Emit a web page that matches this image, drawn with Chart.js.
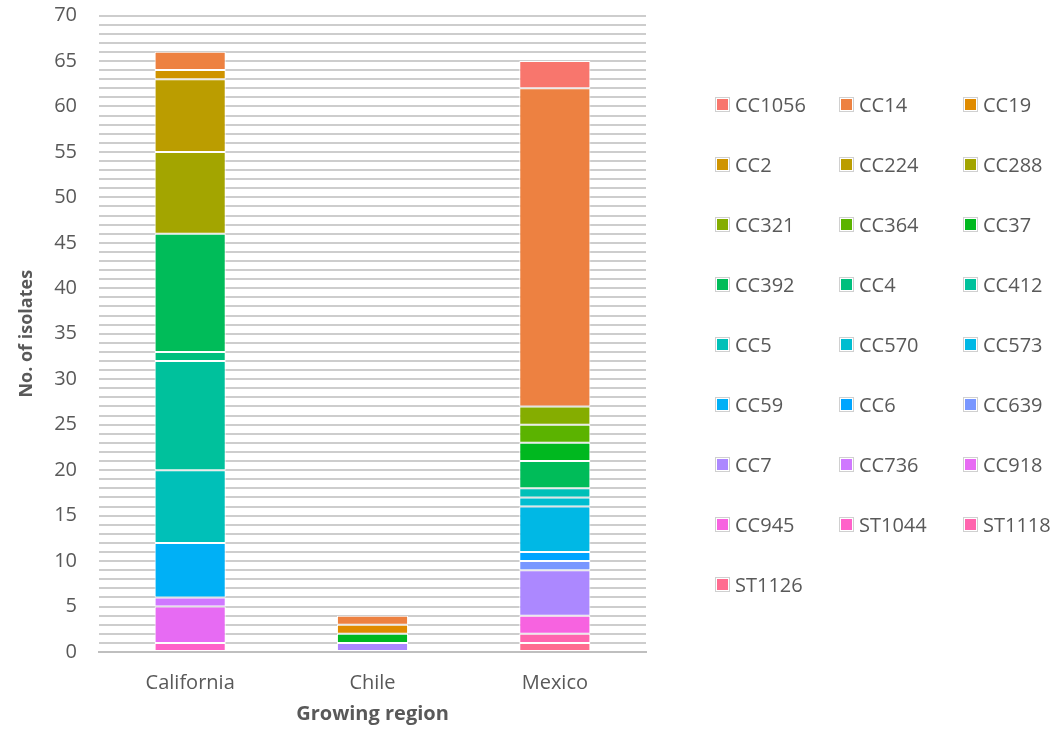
<!DOCTYPE html>
<html>
<head>
<meta charset="utf-8">
<script src="https://cdn.jsdelivr.net/npm/chart.js@4.4.1/dist/chart.umd.min.js"></script>
<style>
  html, body { margin: 0; padding: 0; background: #ffffff; }
  #wrap { position: relative; width: 1063px; height: 729px; overflow: hidden; }
  #chart { position: absolute; left: 0; top: 0; }
  #legend { position: absolute; left: 0; top: 0; font-family: "Open Sans", sans-serif; font-size: 20px; color: #595959; }
  .item { position: absolute; display: flex; align-items: center; height: 26px; white-space: nowrap; }
  .swatch { width: 11px; height: 11px; padding: 1px; border: 1px solid #d0d0d0; background-clip: content-box; margin-right: 5px; flex: none; }
</style>
</head>
<body>
<div id="wrap">
  <canvas id="chart" width="1063" height="729"></canvas>
  <div id="legend"></div>
</div>
<script>
// Growing regions on the x axis
const regions = ['California', 'Chile', 'Mexico'];

// Clonal complexes / sequence types, in legend order
const complexes = [
  'CC1056', 'CC14', 'CC19', 'CC2', 'CC224', 'CC288', 'CC321', 'CC364', 'CC37',
  'CC392', 'CC4', 'CC412', 'CC5', 'CC570', 'CC573', 'CC59', 'CC6', 'CC639',
  'CC7', 'CC736', 'CC918', 'CC945', 'ST1044', 'ST1118', 'ST1126'
];

// Number of isolates per complex (same order as complexes)
const californiaCounts = [0, 2, 0, 1, 8, 9, 0, 0, 0, 13, 1, 12, 8, 0, 0, 6, 0, 0, 0, 1, 4, 0, 1, 0, 0];
const chileCounts      = [0, 1, 1, 0, 0, 0, 0, 0, 1, 0, 0, 0, 0, 0, 0, 0, 0, 0, 1, 0, 0, 0, 0, 0, 0];
const mexicoCounts     = [3, 35, 0, 0, 0, 0, 2, 2, 2, 3, 0, 0, 1, 1, 5, 0, 1, 1, 5, 0, 0, 2, 0, 1, 1];

// Evenly spaced hues in polar CIE-LUV (chroma 100, luminance 65)
function hclColor(h, c, l) {
  const rad = h * Math.PI / 180;
  const U = c * Math.cos(rad), V = c * Math.sin(rad);
  const Y = Math.pow((l + 16) / 116, 3);
  const un = 0.1978398, vn = 0.4683363;
  const u = U / (13 * l) + un, v = V / (13 * l) + vn;
  const X = 9 * Y * u / (4 * v);
  const Z = Y * (12 - 3 * u - 20 * v) / (4 * v);
  const lin = [
     3.240479 * X - 1.537150 * Y - 0.498535 * Z,
    -0.969256 * X + 1.875992 * Y + 0.041556 * Z,
     0.055648 * X - 0.204043 * Y + 1.057311 * Z
  ];
  return '#' + lin.map(t => {
    let g = t <= 0.0031308 ? 12.92 * t : 1.055 * Math.pow(t, 1 / 2.4) - 0.055;
    g = Math.min(1, Math.max(0, g));
    return Math.round(g * 255).toString(16).padStart(2, '0');
  }).join('');
}
const palette = complexes.map((_, i) => hclColor(15 + 360 * i / complexes.length, 100, 65));

// Stacks build upward from the last complex, so datasets go in reverse order
const datasets = complexes.map((name, i) => ({
  label: name,
  data: [californiaCounts[i], chileCounts[i], mexicoCounts[i]],
  backgroundColor: palette[i],
  borderColor: '#ffffff',
  borderWidth: 1,
  borderSkipped: false,
  categoryPercentage: 1,
  barPercentage: 0.39
})).reverse();

const textColor = '#595959';
const baseFont = { family: '"Open Sans", sans-serif', size: 20 };

// Fixed axis box sizes; edge label overhang is left out of the layout
const fixBox = (width, height) => s => {
  if (width != null) s.width = width;
  if (height != null) s.height = height;
  s.paddingTop = 0; s.paddingBottom = 0; s.paddingLeft = 0; s.paddingRight = 0;
};

new Chart(document.getElementById('chart'), {
  type: 'bar',
  data: { labels: regions, datasets },
  options: {
    responsive: false,
    animation: false,
    layout: { autoPadding: false, padding: { top: 15.5, right: 417, bottom: 0, left: 0 } },
    plugins: { legend: { display: false }, tooltip: { enabled: false } },
    scales: {
      x: {
        stacked: true,
        grid: { display: false, drawTicks: false },
        border: { color: '#bfbfbf', width: 2 },
        ticks: { color: textColor, font: baseFont, padding: 19 },
        title: {
          display: true, text: 'Growing region', color: textColor,
          font: { ...baseFont, weight: 'bold' }, padding: { top: 0, bottom: 3 }
        },
        afterFit: fixBox(null, 77)
      },
      y: {
        stacked: true,
        min: 0, max: 70,
        grid: { color: '#cdcdcd', lineWidth: 2, drawTicks: false },
        border: { display: false },
        ticks: {
          stepSize: 1, autoSkip: false, color: textColor, font: baseFont, padding: 22,
          callback: v => (v % 5 === 0 ? String(v) : '')
        },
        title: {
          display: true, text: 'No. of isolates', color: textColor,
          font: { ...baseFont, size: 18, weight: 'bold' }, padding: { top: 16, bottom: 0 }
        },
        afterFit: fixBox(99, null)
      }
    }
  }
});

// Three-column legend to the right of the plot
const legendBox = document.getElementById('legend');
complexes.forEach((name, i) => {
  const row = Math.floor(i / 3), col = i % 3;
  const item = document.createElement('div');
  item.className = 'item';
  item.style.left = (715 + col * 124) + 'px';
  item.style.top = (104 + row * 60 - 13) + 'px';
  const sw = document.createElement('span');
  sw.className = 'swatch';
  sw.style.backgroundColor = palette[i];
  const label = document.createElement('span');
  label.textContent = name;
  item.appendChild(sw);
  item.appendChild(label);
  legendBox.appendChild(item);
});
</script>
</body>
</html>
